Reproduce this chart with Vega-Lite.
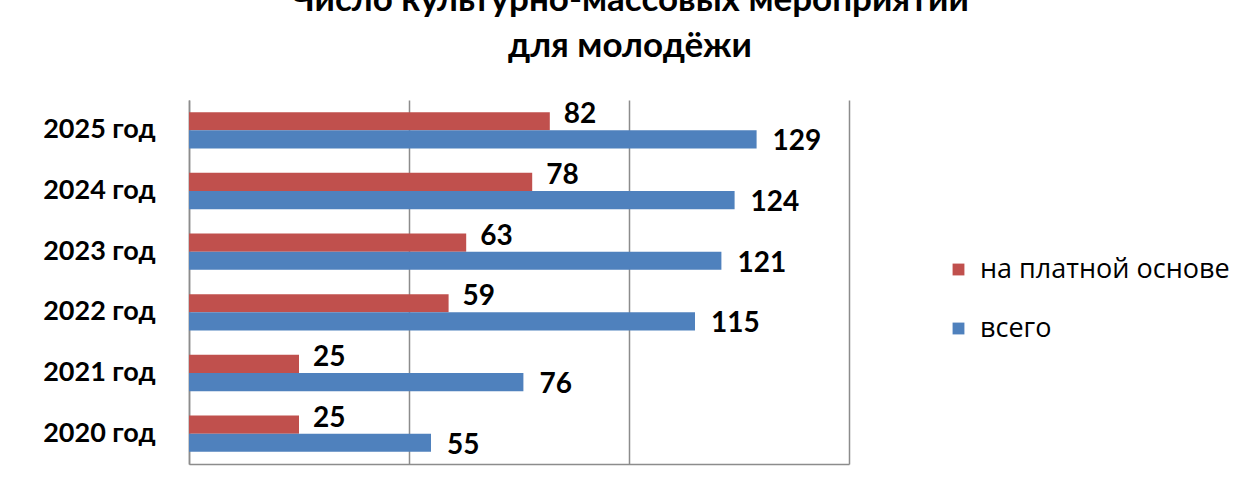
{
  "$schema": "https://vega.github.io/schema/vega-lite/v6.json",
  "autosize": {"type": "none"},
  "width": 660,
  "height": 364,
  "padding": {"left": 189, "top": 100, "right": 411, "bottom": 16},
  "background": "white",
  "title": {
    "text": ["Число культурно-массовых мероприятий", "для молодёжи"],
    "font": "Lato",
    "fontSize": 35,
    "fontWeight": "bold",
    "color": "black",
    "lineHeight": 46,
    "anchor": "middle",
    "dx": 111,
    "offset": 36
  },
  "data": {
    "values": [
      {"year": "2025 год", "series": "на платной основе", "value": 82},
      {"year": "2025 год", "series": "всего", "value": 129},
      {"year": "2024 год", "series": "на платной основе", "value": 78},
      {"year": "2024 год", "series": "всего", "value": 124},
      {"year": "2023 год", "series": "на платной основе", "value": 63},
      {"year": "2023 год", "series": "всего", "value": 121},
      {"year": "2022 год", "series": "на платной основе", "value": 59},
      {"year": "2022 год", "series": "всего", "value": 115},
      {"year": "2021 год", "series": "на платной основе", "value": 25},
      {"year": "2021 год", "series": "всего", "value": 76},
      {"year": "2020 год", "series": "на платной основе", "value": 25},
      {"year": "2020 год", "series": "всего", "value": 55}
    ]
  },
  "encoding": {
    "y": {
      "field": "year",
      "type": "nominal",
      "sort": ["2025 год", "2024 год", "2023 год", "2022 год", "2021 год", "2020 год"],
      "scale": {"paddingInner": 0.4, "paddingOuter": 0.2},
      "axis": {
        "title": null,
        "ticks": false,
        "labelPadding": 34,
        "labelFont": "Lato",
        "labelFontSize": 27,
        "labelFontWeight": "bold",
        "labelColor": "black",
        "domainColor": "#8c8c8c",
        "domainWidth": 1.5
      }
    },
    "yOffset": {
      "field": "series",
      "type": "nominal",
      "sort": ["на платной основе", "всего"],
      "scale": {"paddingInner": 0, "paddingOuter": 0}
    },
    "x": {
      "field": "value",
      "type": "quantitative",
      "scale": {"domain": [0, 150]},
      "axis": {
        "title": null,
        "values": [0, 50, 100, 150],
        "labels": false,
        "ticks": false,
        "grid": true,
        "gridColor": "#8c8c8c",
        "gridWidth": 1.5,
        "domainColor": "#8c8c8c",
        "domainWidth": 1.5
      }
    }
  },
  "layer": [
    {
      "mark": {"type": "bar"},
      "encoding": {
        "color": {
          "field": "series",
          "type": "nominal",
          "sort": ["на платной основе", "всего"],
          "scale": {"domain": ["на платной основе", "всего"], "range": ["#C0504D", "#4F81BD"]},
          "legend": {
            "title": null,
            "orient": "none",
            "legendX": 756,
            "legendY": 156,
            "symbolType": "square",
            "symbolSize": 140,
            "symbolStrokeWidth": 0,
            "labelFont": "Open Sans",
            "labelFontSize": 27,
            "labelColor": "black",
            "labelOffset": 8,
            "labelLimit": 0,
            "rowPadding": 31
          }
        }
      }
    },
    {
      "transform": [{"filter": "datum.series == 'на платной основе'"}],
      "mark": {"type": "text", "align": "left", "baseline": "middle", "dx": 14, "dy": -6, "font": "Lato", "fontSize": 28, "fontWeight": "bold", "color": "black"},
      "encoding": {"text": {"field": "value", "type": "quantitative"}}
    },
    {
      "transform": [{"filter": "datum.series == 'всего'"}],
      "mark": {"type": "text", "align": "left", "baseline": "middle", "dx": 16, "dy": 3, "font": "Lato", "fontSize": 28, "fontWeight": "bold", "color": "black"},
      "encoding": {"text": {"field": "value", "type": "quantitative"}}
    }
  ],
  "config": {"view": {"stroke": null}}
}
